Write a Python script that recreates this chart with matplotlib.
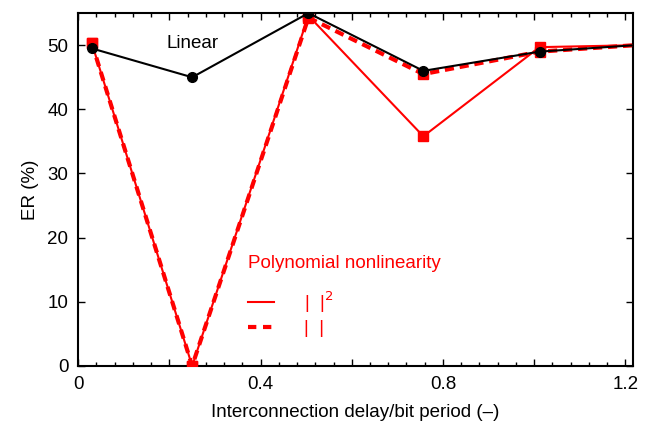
import matplotlib.pyplot as plt
from matplotlib.ticker import MultipleLocator

plt.rcParams['font.family'] = ['Liberation Sans', 'DejaVu Sans']

# delay / bit period
X = [0.03, 0.25, 0.505, 0.757, 1.012, 1.22]

linear = [49.5, 45.0, 55.0, 46.0, 49.0, 50.0]
poly_sq = [50.3, 0.0, 54.6, 35.8, 49.7, 50.0]   # |.|^2
poly_abs = [50.3, 0.0, 54.3, 45.5, 49.0, 50.0]  # |.|

FS = 13.5

fig = plt.figure(figsize=(6.46, 4.24), dpi=100)
ax = fig.add_axes([0.121, 0.137, 0.859, 0.832])

ax.plot(X, poly_sq, color="red", lw=1.5, zorder=3)
ax.plot(X[:-1], poly_sq[:-1], ls="none", marker="s", ms=7, color="red", zorder=3)
ax.plot(X, poly_abs, color="red", lw=3, ls=(0, (2.2, 1.4)), zorder=2)
ax.plot(X[:-1], poly_abs[:-1], ls="none", marker="s", ms=7, color="red", zorder=2)
ax.plot(X, linear, color="black", lw=1.5, zorder=4)
ax.plot(X[:-1], linear[:-1], ls="none", marker="o", ms=7, color="black", zorder=4)

ax.text(0.25, 50.3, "Linear", fontsize=FS, ha="center", va="center")
ax.text(0.373, 15.9, "Polynomial nonlinearity", fontsize=FS, color="red", va="center")
ax.plot([0.373, 0.43], [9.9, 9.9], color="red", lw=1.5)
ax.plot([0.373, 0.43], [6.0, 6.0], color="red", lw=3, ls=(0, (2.0, 1.6)))
ax.text(0.496, 9.9, r"|  |$^{2}$", fontsize=FS, color="red", va="center")
ax.text(0.496, 5.9, "|  |", fontsize=FS, color="red", va="center")

ax.set_xlim(0, 1.217)
ax.set_ylim(0, 55)
ax.xaxis.set_minor_locator(MultipleLocator(0.04))
ax.set_xticks([0, 0.2, 0.4, 0.6, 0.8, 1.0, 1.2])
ax.set_xticklabels(["0", "", "0.4", "", "0.8", "", "1.2"])
ax.set_yticks([0, 10, 20, 30, 40, 50])

ax.tick_params(which="both", direction="in", top=True, right=True, labelsize=FS)
ax.tick_params(which="major", length=5, width=1, pad=7)
ax.tick_params(which="minor", length=3, width=1)
for s in ax.spines.values():
    s.set_linewidth(1.5)

ax.set_xlabel("Interconnection delay/bit period (\u2013)", fontsize=FS, labelpad=8)
ax.set_ylabel("ER (%)", fontsize=FS, labelpad=6)

plt.savefig("out.png", dpi=100)
